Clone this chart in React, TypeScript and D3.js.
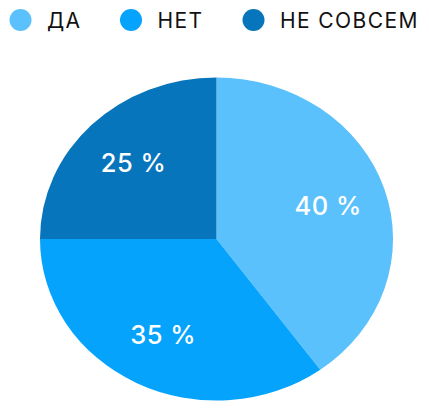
import React from "react";
import * as d3 from "d3";

const categories = ["ДА", "НЕТ", "НЕ СОВСЕМ"];
const values = [40, 35, 25];
const labels = ["40 %", "35 %", "25 %"];
const colors = ["#5BC1FD", "#05A3FC", "#0675BB"];

const W = 429;
const H = 411;
const cx = 216.5;
const cy = 239;
const rx = 176.5;
const ry = 161.5;
const labelK = 0.665;

export default function App() {
  const pie = d3.pie<number>().sort(null).value((d) => d)(values);
  const arc = d3.arc<d3.PieArcDatum<number>>().innerRadius(0).outerRadius(1);
  const legendX = [20.5, 131, 253.5];
  return (
    <svg width={W} height={H} style={{ position: "absolute", left: 0, top: 0 }}>
      <g>
        {categories.map((c, i) => (
          <g key={c}>
            <circle cx={legendX[i]} cy={20} r={11} fill={colors[i]} />
            <text
              x={legendX[i] + 26.5}
              y={28}
              fontFamily="Inter, Liberation Sans, Arial, sans-serif"
              fontSize={21}
              letterSpacing={1.4}
              fill="#111"
            >
              {c}
            </text>
          </g>
        ))}
      </g>
      <g transform={`translate(${cx},${cy}) scale(${rx},${ry})`}>
        {pie.map((p, i) => (
          <path key={i} d={arc(p) || ""} fill={colors[i]} />
        ))}
      </g>
      {pie.map((p, i) => {
        const a = (p.startAngle + p.endAngle) / 2;
        const x = cx + Math.sin(a) * rx * labelK;
        const y = cy - Math.cos(a) * ry * labelK;
        return (
          <text
            key={i}
            x={x}
            y={y + 9}
            textAnchor="middle"
            fontFamily="Inter, Liberation Sans, Arial, sans-serif"
            fontWeight={500}
            fontSize={25.5}
            letterSpacing={0.5}
            fill="#fff"
          >
            {labels[i]}
          </text>
        );
      })}
    </svg>
  );
}
